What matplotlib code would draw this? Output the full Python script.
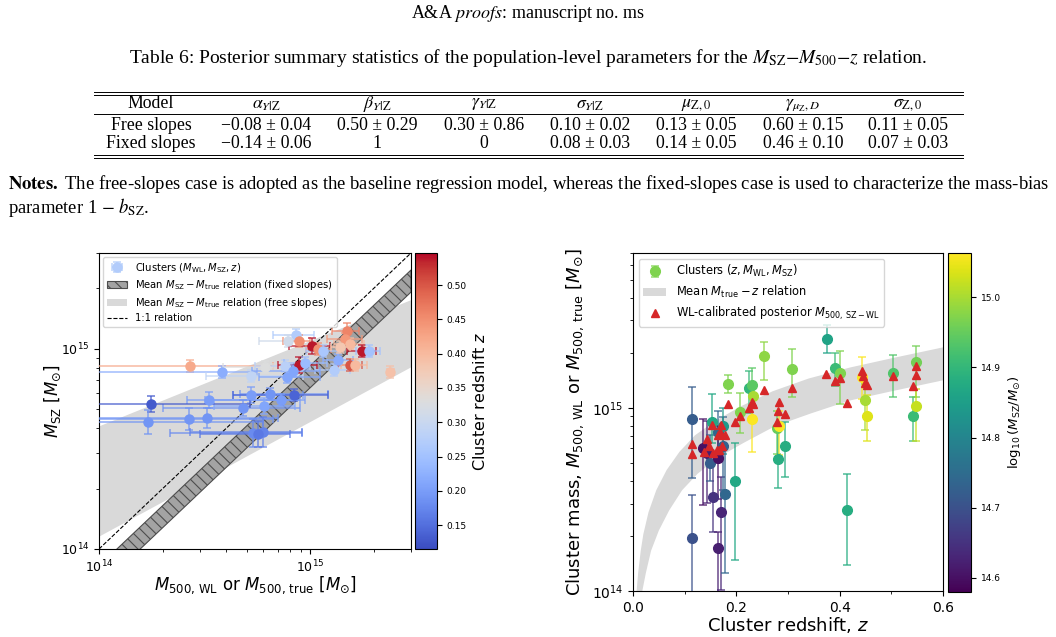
import numpy as np
import matplotlib.pyplot as plt
from matplotlib.patches import Patch
from matplotlib.lines import Line2D
from matplotlib.colors import Normalize
from matplotlib.cm import ScalarMappable
from matplotlib.ticker import MultipleLocator

# ---- Table 6 ----
col_heads = ["Model", r"$\alpha_{Y|{\rm Z}}$", r"$\beta_{Y|{\rm Z}}$", r"$\gamma_{Y|{\rm Z}}$",
             r"$\sigma_{Y|{\rm Z}}$", r"$\mu_{{\rm Z},0}$", r"$\gamma_{\mu_{\rm Z},D}$", r"$\sigma_{{\rm Z},0}$"]
free_row = ["Free slopes", "\u22120.08 \u00b1 0.04", "0.50 \u00b1 0.29", "0.30 \u00b1 0.86",
            "0.10 \u00b1 0.02", "0.13 \u00b1 0.05", "0.60 \u00b1 0.15", "0.11 \u00b1 0.05"]
fixed_row = ["Fixed slopes", "\u22120.14 \u00b1 0.06", "1", "0",
             "0.08 \u00b1 0.03", "0.14 \u00b1 0.05", "0.46 \u00b1 0.10", "0.07 \u00b1 0.03"]

# ---- left panel: clusters, masses in 1e14 Msun ----
wl = [8.59, 7.87, 8.87, 10.2, 10.9, 11.5, 15.0, 14.6, 15.5, 17.6, 19.0, 13.6, 12.9, 15.5, 16.3, 23.9,
      2.70, 3.83, 5.25, 6.12, 7.62, 8.87, 9.46, 8.30, 7.78, 5.25, 6.46, 8.40, 7.29, 3.32, 4.81, 6.05,
      1.76, 2.67, 3.25, 1.71, 5.37, 5.98, 5.67, 13.9]
wl_lo = [6.67, 5.73, 7.45, 7.94, 9.5, 9.6, 12.7, 12.0, 13.0, 15.0, 16.5, 11.5, 10.5, 13.5, 14.0, 23.0,
         0.5, 0.6, 3.21, 3.87, 5.5, 7.05, 7.5, 5.31, 5.7, 4.32, 4.66, 4.32, 3.18, 2.61, 2.01, 3.5,
         0.5, 0.5, 0.6, 0.4, 2.17, 2.7, 3.0, 12.5]
wl_hi = [10.4, 9.0, 10.0, 12.4, 12.5, 13.5, 17.1, 17.5, 18.0, 20.5, 21.5, 16.0, 15.5, 17.5, 18.5, 25.0,
         6.67, 5.6, 9.27, 6.67, 10.0, 10.8, 12.0, 11.1, 11.1, 9.27, 12.2, 12.2, 8.98, 9.46, 8.98, 8.5,
         5.2, 6.67, 7.0, 6.0, 9.14, 9.14, 8.0, 15.5]
sz = [11.7, 10.96, 10.96, 10.35, 10.0, 9.77, 12.2, 11.2, 10.5, 9.77, 9.77, 8.81, 7.85, 8.32, 8.32, 7.67,
      8.22, 7.67, 7.33, 8.13, 8.22, 8.32, 8.51, 7.76, 7.24, 5.89, 5.96, 5.89, 5.56, 5.56, 5.07, 5.19,
      5.31, 4.47, 4.52, 4.32, 3.80, 3.85, 3.76, 10.2]
sz_dex = [0.03, 0.03, 0.03, 0.04, 0.03, 0.03, 0.04, 0.03, 0.03, 0.03, 0.03, 0.03, 0.03, 0.03, 0.03, 0.03,
          0.03, 0.03, 0.03, 0.03, 0.03, 0.04, 0.03, 0.03, 0.03, 0.04, 0.03, 0.03, 0.03, 0.04, 0.04, 0.04,
          0.04, 0.055, 0.05, 0.06, 0.07, 0.075, 0.065, 0.03]
zL = [0.27, 0.31, 0.45, 0.54, 0.45, 0.26, 0.46, 0.44, 0.40, 0.54, 0.25, 0.22, 0.27, 0.50, 0.40, 0.39,
      0.42, 0.22, 0.29, 0.33, 0.28, 0.54, 0.24, 0.21, 0.21, 0.20, 0.19, 0.14, 0.20, 0.20, 0.19, 0.21,
      0.13, 0.19, 0.19, 0.19, 0.18, 0.17, 0.16, 0.38]

# mean relations (log10 M_SZ at the two x limits)
free_lo = [14.065, 14.91]
free_hi = [14.615, 15.245]
fixed_offset = -0.14
fixed_half = 0.055

# ---- right panel: clusters vs redshift (log10 masses) ----
cz = [.115, .115, .135, .143, .149, .154, .152, .165, .165, .165, .170, .174, .175, .179, .184, .197,
      .207, .224, .230, .233, .230, .254, .279, .280, .283, .294, .308, .375, .391, .400, .414, .443,
      .449, .453, .504, .541, .548, .548]
cm = [14.938, 14.288, 14.78, 14.752, 14.698, 14.515, 14.925, 14.87, 14.725, 14.237, 14.433, 14.789,
      14.898, 14.53, 15.131, 14.60, 14.976, 15.107, 15.126, 15.066, 14.938, 15.284, 14.889, 14.72,
      14.902, 14.789, 15.213, 15.377, 15.22, 15.19, 14.443, 15.17, 15.04, 14.953, 15.19, 14.953,
      15.25, 15.011]
chi = [15.116, 14.525, 14.94, 14.93, 14.85, 14.70, 15.077, 14.98, 14.90, 14.32, 14.625, 14.95, 15.0,
       14.79, 15.18, 14.81, 15.08, 15.20, 15.22, 15.12, 15.08, 15.36, 14.98, 14.885, 14.98, 14.92,
       15.32, 15.45, 15.30, 15.31, 14.64, 15.28, 15.13, 15.07, 15.29, 15.06, 15.34, 15.1]
clo = [14.619, 13.7, 14.47, 14.48, 14.60, 14.324, 14.81, 14.75, 14.50, 13.8, 14.005, 14.55, 14.75,
       14.098, 15.08, 14.17, 14.86, 14.97, 15.0, 15.01, 14.76, 15.15, 14.75, 14.56, 14.74, 14.62,
       15.06, 15.30, 15.12, 15.02, 14.14, 15.05, 14.88, 14.82, 15.06, 14.82, 15.06, 14.82]
csz = [14.72, 14.70, 14.60, 14.62, 14.72, 14.65, 14.87, 14.74, 14.60, 14.62, 14.63, 14.73, 14.84,
       14.74, 14.97, 14.87, 14.97, 14.90, 14.94, 15.00, 15.06, 14.98, 14.95, 14.88, 15.06, 14.88,
       14.97, 14.86, 14.91, 14.97, 14.88, 15.06, 15.00, 15.04, 14.93, 14.91, 14.96, 15.02]
tri_z = [0.115, 0.115, 0.137, 0.143, 0.148, 0.152, 0.155, 0.162, 0.165, 0.168, 0.170, 0.172, 0.167,
         0.179, 0.184, 0.197, 0.207, 0.224, 0.230, 0.233, 0.253, 0.279, 0.281, 0.283, 0.294, 0.308,
         0.374, 0.391, 0.400, 0.414, 0.443, 0.446, 0.449, 0.453, 0.504, 0.541, 0.548, 0.548]
tri_m = [14.80, 14.75, 14.758, 14.83, 14.79, 14.907, 14.752, 14.77, 14.85, 14.87, 14.907, 14.79,
         14.77, 14.85, 15.022, 14.925, 14.958, 14.998, 15.029, 15.022, 15.095, 14.925, 14.98, 15.034,
         14.965, 15.108, 15.186, 15.144, 15.162, 15.025, 15.199, 15.171, 15.138, 15.126, 15.175,
         15.12, 15.18, 15.226]
# mean M_true - z band edges
band_up_z = [0.007, 0.01, 0.015, 0.02, 0.03, 0.045, 0.065, 0.09, 0.12, 0.16, 0.21, 0.27, 0.34,
             0.42, 0.5, 0.6]
band_up_m = [14.0, 14.10, 14.22, 14.31, 14.43, 14.55, 14.66, 14.76, 14.85, 14.93, 15.01, 15.09,
             15.16, 15.22, 15.27, 15.33]
band_lo_z = [0.018, 0.025, 0.035, 0.05, 0.07, 0.095, 0.125, 0.165, 0.215, 0.275, 0.345, 0.42, 0.5, 0.6]
band_lo_m = [14.0, 14.10, 14.22, 14.33, 14.44, 14.55, 14.64, 14.73, 14.81, 14.90, 14.97, 15.04,
             15.09, 15.15]

W, H = 1056, 637
fig = plt.figure(figsize=(W / 100, H / 100), dpi=100)
plt.rcParams['hatch.linewidth'] = 0.8


def fx(px):
    return px / W


def fy(py):
    return 1 - py / H


def page_text(x, y, s, size=12.5, ha='center'):
    fig.text(fx(x), fy(y), s, ha=ha, va='center', fontsize=size,
             family='Liberation Serif', math_fontfamily='stix')


def hline(y, x0=94, x1=963, lw=0.7):
    fig.add_artist(Line2D([fx(x0), fx(x1)], [fy(y), fy(y)], color='k', lw=lw,
                          transform=fig.transFigure))


# ---- page header, caption, table, notes ----
page_text(528, 14, r"A&A $\mathit{proofs}$: manuscript no. ms", 13)
page_text(528, 58, r"Table 6: Posterior summary statistics of the population-level parameters "
                   r"for the $M_{\rm SZ}$$-$$M_{500}$$-$$z$ relation.", 14)
col_x = [151, 266, 377, 484, 590, 696, 803, 908]
for i in range(len(col_heads)):
    page_text(col_x[i], 104, col_heads[i], 12.8)
    page_text(col_x[i], 125, free_row[i], 12.8)
    page_text(col_x[i], 144, fixed_row[i], 12.8)
hline(91.5)
hline(94.5)
hline(114)
hline(155)
hline(157.5)
page_text(8, 184, r"$\mathbf{Notes.}$ The free-slopes case is adopted as the baseline regression model, "
                  "whereas the fixed-slopes case is used to characterize the mass-bias", 13.4, ha='left')
page_text(8, 208, r"parameter 1 $-$ $b_{\rm SZ}$.", 13.4, ha='left')

# ---- left panel ----
axL = fig.add_axes([fx(99), fy(549), (411 - 99) / W, (549 - 253) / H])
axL.set_xscale('log')
axL.set_yscale('log')
xs = np.array([1e14, 3e15])
axL.fill_between(xs, 10 ** np.array(free_lo), 10 ** np.array(free_hi), color='0.85', lw=0, zorder=1)
axL.fill_between(xs, xs * 10 ** (fixed_offset - fixed_half), xs * 10 ** (fixed_offset + fixed_half),
                 facecolor='0.64', edgecolor='0.3', hatch='\\\\\\', lw=0.8, zorder=2)
axL.plot(xs, xs, 'k--', lw=0.8, zorder=3)

norm_z = Normalize(0.115, 0.547)
cmapL = plt.get_cmap('coolwarm')
hL = None
for i in range(len(wl)):
    c = cmapL(norm_z(zL[i]))
    m_wl = wl[i] * 1e14
    m_sz = sz[i] * 1e14
    xe = [[m_wl - wl_lo[i] * 1e14], [wl_hi[i] * 1e14 - m_wl]]
    ye = [[m_sz * (1 - 10 ** -sz_dex[i])], [m_sz * (10 ** sz_dex[i] - 1)]]
    h = axL.errorbar(m_wl, m_sz, xerr=xe, yerr=ye, fmt='o', color=c, ecolor=c[:3] + (0.75,),
                     ms=6.5, capsize=3, elinewidth=1.2, capthick=1.2, zorder=4)
    if i == 0:
        hL = h
axL.set_xlim(1e14, 3e15)
axL.set_ylim(1e14, 3e15)
axL.tick_params(labelsize=9)
axL.set_xlabel(r"$M_{\rm 500,\,WL}$ or $M_{\rm 500,\,true}\ [M_{\odot}]$", fontsize=12, labelpad=-1)
axL.set_ylabel(r"$M_{\rm SZ}\ [M_{\odot}]$", fontsize=12, labelpad=-2)
handlesL = [hL,
            Patch(facecolor='0.64', edgecolor='0.3', hatch='\\\\\\', lw=0.8),
            Patch(facecolor='0.85', edgecolor='none'),
            Line2D([], [], color='k', ls='--', lw=0.8)]
labelsL = [r"Clusters $(M_{\rm WL}, M_{\rm SZ}, z)$",
           r"Mean $M_{\rm SZ}-M_{\rm true}$ relation (fixed slopes)",
           r"Mean $M_{\rm SZ}-M_{\rm true}$ relation (free slopes)",
           "1:1 relation"]
axL.legend(handlesL, labelsL, loc='upper left', fontsize=7.2, borderaxespad=0.4, labelspacing=0.35)

caxL = fig.add_axes([fx(415), fy(549), (437 - 415) / W, (549 - 253) / H])
cbL = fig.colorbar(ScalarMappable(norm_z, cmapL), cax=caxL)
cbL.set_ticks([0.15, 0.20, 0.25, 0.30, 0.35, 0.40, 0.45, 0.50])
cbL.ax.tick_params(labelsize=6.5)
cbL.set_label(r"Cluster redshift $z$", fontsize=11.5)

# ---- right panel ----
axR = fig.add_axes([fx(633), fy(591), (943 - 633) / W, (591 - 253) / H])
axR.set_yscale('log')
axR.fill(np.r_[band_up_z, band_lo_z[::-1]], 10 ** np.r_[band_up_m, band_lo_m[::-1]],
         color='0.85', lw=0, zorder=1)
norm_m = Normalize(14.58, 15.063)
cmapR = plt.get_cmap('viridis')
hR = None
for i in range(len(cz)):
    c = cmapR(norm_m(csz[i]))
    m = 10 ** cm[i]
    ye = [[m - 10 ** clo[i]], [10 ** chi[i] - m]]
    h = axR.errorbar(cz[i], m, yerr=ye, fmt='o', color=c, ecolor=c[:3] + (0.75,), ms=7,
                     capsize=3, elinewidth=1.2, capthick=1.2, zorder=3)
    if i == 14:
        hR = h
hT, = axR.plot(tri_z, 10 ** np.array(tri_m), '^', color='#d62728', ms=6, lw=0, zorder=4)
axR.set_xlim(0, 0.6)
axR.set_ylim(1e14, 7e15)
axR.xaxis.set_major_locator(MultipleLocator(0.2))
axR.xaxis.set_minor_locator(MultipleLocator(0.1))
axR.tick_params(labelsize=10)
axR.set_xlabel(r"Cluster redshift, $z$", fontsize=13, labelpad=0)
axR.set_ylabel(r"Cluster mass, $M_{\rm 500,\,WL}$ or $M_{\rm 500,\,true}\ [M_{\odot}]$", fontsize=13)
axR.legend([hR, Patch(facecolor='0.85', edgecolor='none'), hT],
           [r"Clusters $(z, M_{\rm WL}, M_{\rm SZ})$",
            r"Mean $M_{\rm true}-z$ relation",
            r"WL-calibrated posterior $M_{\rm 500,\,SZ-WL}$"],
           loc='upper left', fontsize=8.3, borderaxespad=0.5, labelspacing=0.4)

caxR = fig.add_axes([fx(948), fy(592), (971 - 948) / W, (592 - 253) / H])
cbR = fig.colorbar(ScalarMappable(norm_m, cmapR), cax=caxR)
cbR.set_ticks([14.6, 14.7, 14.8, 14.9, 15.0])
cbR.ax.tick_params(labelsize=6.5)
cbR.set_label(r"$\log_{10}(M_{\rm SZ}/M_{\odot})$", fontsize=9.5)

fig.savefig("out.png", dpi=100)
